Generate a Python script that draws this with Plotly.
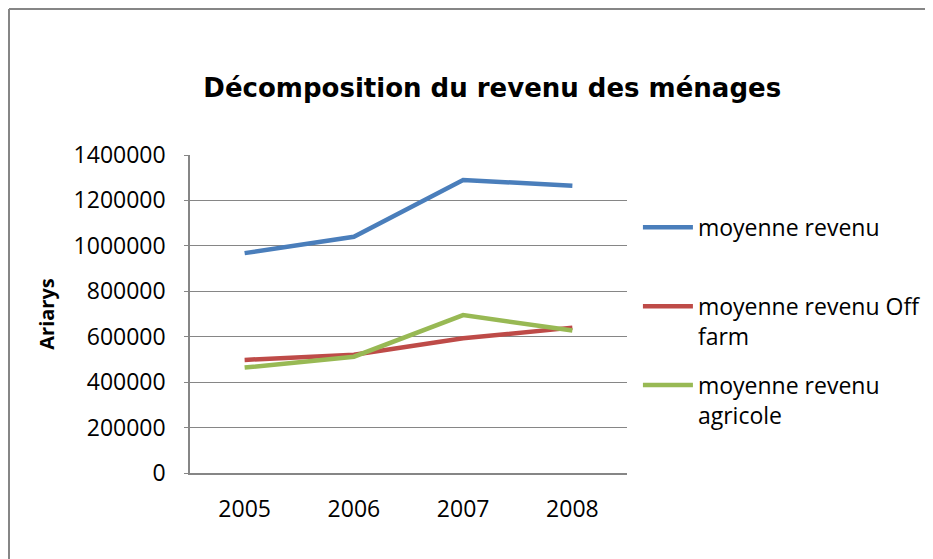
import plotly.graph_objects as go

# Data
years = ["2005", "2006", "2007", "2008"]
revenu_moyen = [968000, 1040000, 1290000, 1265000]
revenu_off_farm = [498000, 521000, 593000, 640000]
revenu_agricole = [464000, 512000, 695000, 627000]

y_ticks = [0, 200000, 400000, 600000, 800000, 1000000, 1200000, 1400000]
series_names = [
    "moyenne revenu<br> ",
    "moyenne revenu Off<br>farm",
    "moyenne revenu<br>agricole",
]

COLORS = ["#4A7EBB", "#BE4B48", "#98B954"]
FONT = "Open Sans"

fig = go.Figure()

for i, vals in enumerate([revenu_moyen, revenu_off_farm, revenu_agricole]):
    fig.add_trace(go.Scatter(
        x=years,
        y=vals,
        mode="lines",
        name=series_names[i],
        legendgroup=str(i),
        line=dict(color=COLORS[i], width=4.5),
    ))

fig.update_layout(
    width=933,
    height=559,
    paper_bgcolor="white",
    plot_bgcolor="white",
    margin=dict(l=182, r=314, t=147, b=94),
    title=dict(
        text="<b>Décomposition du revenu des ménages</b>",
        x=0.519, xanchor="center",
        y=0.857, yanchor="middle",
        font=dict(family="DejaVu Sans", size=26, color="black"),
    ),
    font=dict(family=FONT, size=23, color="black"),
    legend=dict(
        x=1.025, xanchor="left",
        y=0.84, yanchor="top",
        valign="top",
        itemwidth=50,
        tracegroupgap=16,
        font=dict(family=FONT, size=23, color="black"),
        bgcolor="rgba(0,0,0,0)",
    ),
    showlegend=True,
)

fig.update_xaxes(
    type="category",
    range=[-0.5, 3.5],
    showline=True, linecolor="#868686", linewidth=1.5,
    showgrid=False,
    ticks="", tickfont=dict(size=23),
    ticklabelstandoff=15,
)
fig.update_yaxes(
    range=[0, 1400000],
    tickvals=y_ticks,
    ticktext=[str(v) for v in y_ticks],
    showline=True, linecolor="#868686", linewidth=1.5,
    showgrid=True, gridcolor="#868686", gridwidth=1,
    ticks="outside", ticklen=4, tickcolor="#868686",
    tickfont=dict(size=23),
    ticklabelstandoff=14,
    title=dict(text="<b>Ariarys</b>", font=dict(size=20), standoff=14),
    zeroline=False,
)

# outer chart frame: only its top and left edges show in the reference
frame_left = -181 / 437
frame_right = (933 - 182) / 437
frame_top = 1 + 146 / 318
frame_bottom = -94 / 318
fig.add_shape(type="line", xref="paper", yref="paper",
              x0=frame_left, x1=frame_right, y0=frame_top, y1=frame_top,
              line=dict(color="#868686", width=2))
fig.add_shape(type="line", xref="paper", yref="paper",
              x0=frame_left, x1=frame_left, y0=frame_bottom, y1=frame_top,
              line=dict(color="#868686", width=2))

fig.write_html("out.html")
